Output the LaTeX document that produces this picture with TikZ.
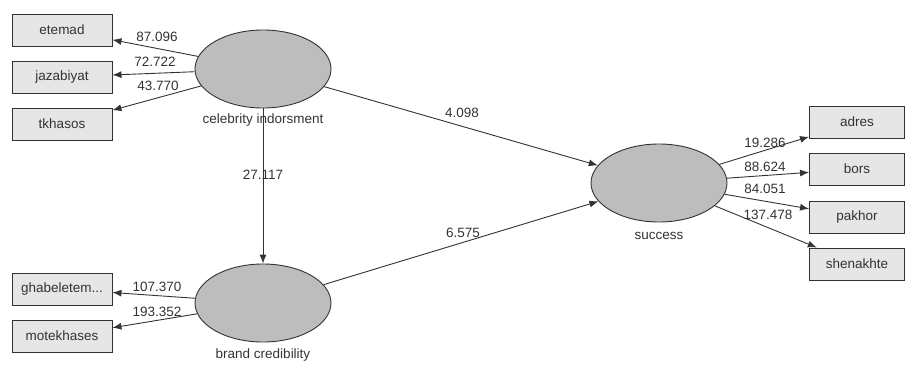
\documentclass[tikz,border=0pt]{standalone}
\usepackage{fontspec}
\setmainfont{Liberation Sans}
\usetikzlibrary{shapes.geometric,arrows.meta}
\definecolor{ink}{HTML}{333333}
\definecolor{ellfill}{HTML}{BDBDBD}
\definecolor{boxfill}{HTML}{E6E6E6}
\tikzset{
  lv/.style={ellipse, draw=ink, line width=0.9pt, fill=ellfill, minimum width=136pt, minimum height=78pt, inner sep=0pt},
  mvl/.style={rectangle, draw=ink, line width=0.9pt, fill=boxfill, minimum width=100pt, minimum height=32pt, inner sep=0pt, text=ink, font=\fontsize{13.5}{15}\selectfont},
  mvr/.style={mvl, minimum width=95pt},
  lbl/.style={text=ink, font=\fontsize{13.5}{15}\selectfont, inner sep=0pt},
  arr/.style={draw=ink, line width=0.9pt, -{Latex[length=9pt,width=7pt]}},
}
\begin{document}
\begin{tikzpicture}[x=1pt,y=-1pt]
\useasboundingbox (0,0) rectangle (907,378);
% latent variables
\node[lv, label={[lbl, label distance=5pt]below:celebrity indorsment}] (celeb) at (263,69) {};
\node[lv, label={[lbl, label distance=6pt]below:brand credibility}] (brand) at (263,303) {};
\node[lv, label={[lbl, label distance=10pt]below:success}] (succ) at (659,183) {};
% indicators
\node[mvl] (etemad) at (62,30) {etemad};
\node[mvl] (jazab) at (62,77) {jazabiyat};
\node[mvl] (tkhas) at (62,124) {tkhasos};
\node[mvl] (ghab) at (62,289) {ghabeletem...};
\node[mvl] (motek) at (62,336) {motekhases};
\node[mvr] (adres) at (857,122) {adres};
\node[mvr] (bors) at (857,169) {bors};
\node[mvr] (pakhor) at (857,217) {pakhor};
\node[mvr] (shen) at (857,264) {shenakhte};
% connectors
\draw[arr] (celeb) -- (etemad);
\draw[arr] (celeb) -- (jazab);
\draw[arr] (celeb) -- (tkhas);
\draw[arr] (brand) -- (ghab);
\draw[arr] (brand) -- (motek);
\draw[arr] (celeb) -- (brand);
\draw[arr] (celeb) -- (succ);
\draw[arr] (brand) -- (succ);
\draw[arr] (succ) -- (adres);
\draw[arr] (succ) -- (bors);
\draw[arr] (succ) -- (pakhor);
\draw[arr] (succ) -- (shen);
% path coefficients
\node[lbl] (l1) at (157,37) {87.096};
\node[lbl] (l2) at (155,62) {72.722};
\node[lbl] (l3) at (158,86) {43.770};
\node[lbl] (l4) at (157,287) {107.370};
\node[lbl] (l5) at (157,312) {193.352};
\node[lbl] (l6) at (263,175) {27.117};
\node[lbl] (l7) at (462,113) {4.098};
\node[lbl] (l8) at (463,233) {6.575};
\node[lbl] (l9) at (765,143) {19.286};
\node[lbl] (l10) at (765,167) {88.624};
\node[lbl] (l11) at (765,189) {84.051};
\node[lbl] (l12) at (768,215) {137.478};
\end{tikzpicture}
\end{document}
